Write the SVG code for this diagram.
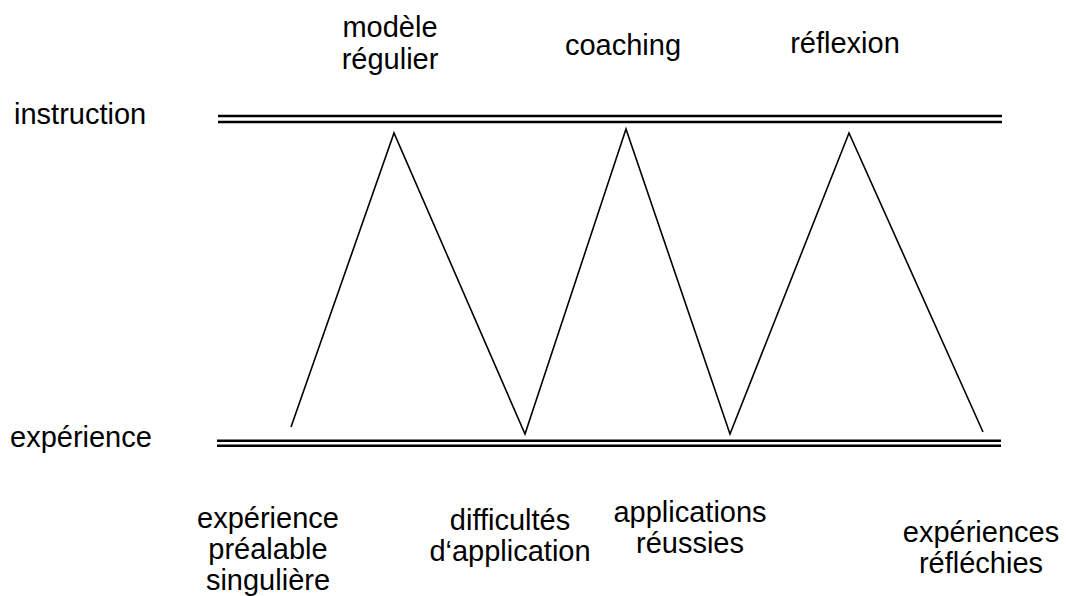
<svg xmlns="http://www.w3.org/2000/svg" width="1066" height="596" viewBox="0 0 1066 596">
  <style>
    text { font-family: "Liberation Sans", Arial, sans-serif; font-size: 29px; fill: #000; }
    .c { text-anchor: middle; }
    .rail { stroke: #000; stroke-width: 2.5; fill: none; }
    .zig { stroke: #000; stroke-width: 1.6; fill: none; stroke-linejoin: miter; }
  </style>
  <rect width="1066" height="596" fill="#fff"/>

  <!-- level labels -->
  <g id="level-instruction">
    <text x="14" y="124">instruction</text>
    <line class="rail" x1="218" y1="116" x2="1002" y2="116"/>
    <line class="rail" x1="218" y1="122" x2="1002" y2="122"/>
  </g>
  <g id="level-experience">
    <text x="10" y="447">expérience</text>
    <line class="rail" x1="217" y1="440.7" x2="1001" y2="440.7"/>
    <line class="rail" x1="217" y1="445.8" x2="1001" y2="445.8"/>
  </g>

  <!-- top labels -->
  <g id="top-modele">
    <text class="c" x="390" y="37">modèle</text>
    <text class="c" x="390" y="69">régulier</text>
  </g>
  <g id="top-coaching">
    <text class="c" x="623" y="55">coaching</text>
  </g>
  <g id="top-reflexion">
    <text class="c" x="845" y="53">réflexion</text>
  </g>

  <!-- bottom labels -->
  <g id="bottom-prealable">
    <text class="c" x="268" y="528">expérience</text>
    <text class="c" x="268" y="559">préalable</text>
    <text class="c" x="268" y="590">singulière</text>
  </g>
  <g id="bottom-difficultes">
    <text class="c" x="510" y="530">difficultés</text>
    <text class="c" x="510" y="561">d‘application</text>
  </g>
  <g id="bottom-applications">
    <text class="c" x="690" y="522">applications</text>
    <text class="c" x="690" y="553">réussies</text>
  </g>
  <g id="bottom-reflechies">
    <text class="c" x="981" y="542">expériences</text>
    <text class="c" x="981" y="573">réfléchies</text>
  </g>

  <!-- zigzag path between the two levels -->
  <g id="connectors">
    <polyline class="zig" points="291,427 394,133 525,434 626,129 730,434 849,133 983,432"/>
  </g>
</svg>
